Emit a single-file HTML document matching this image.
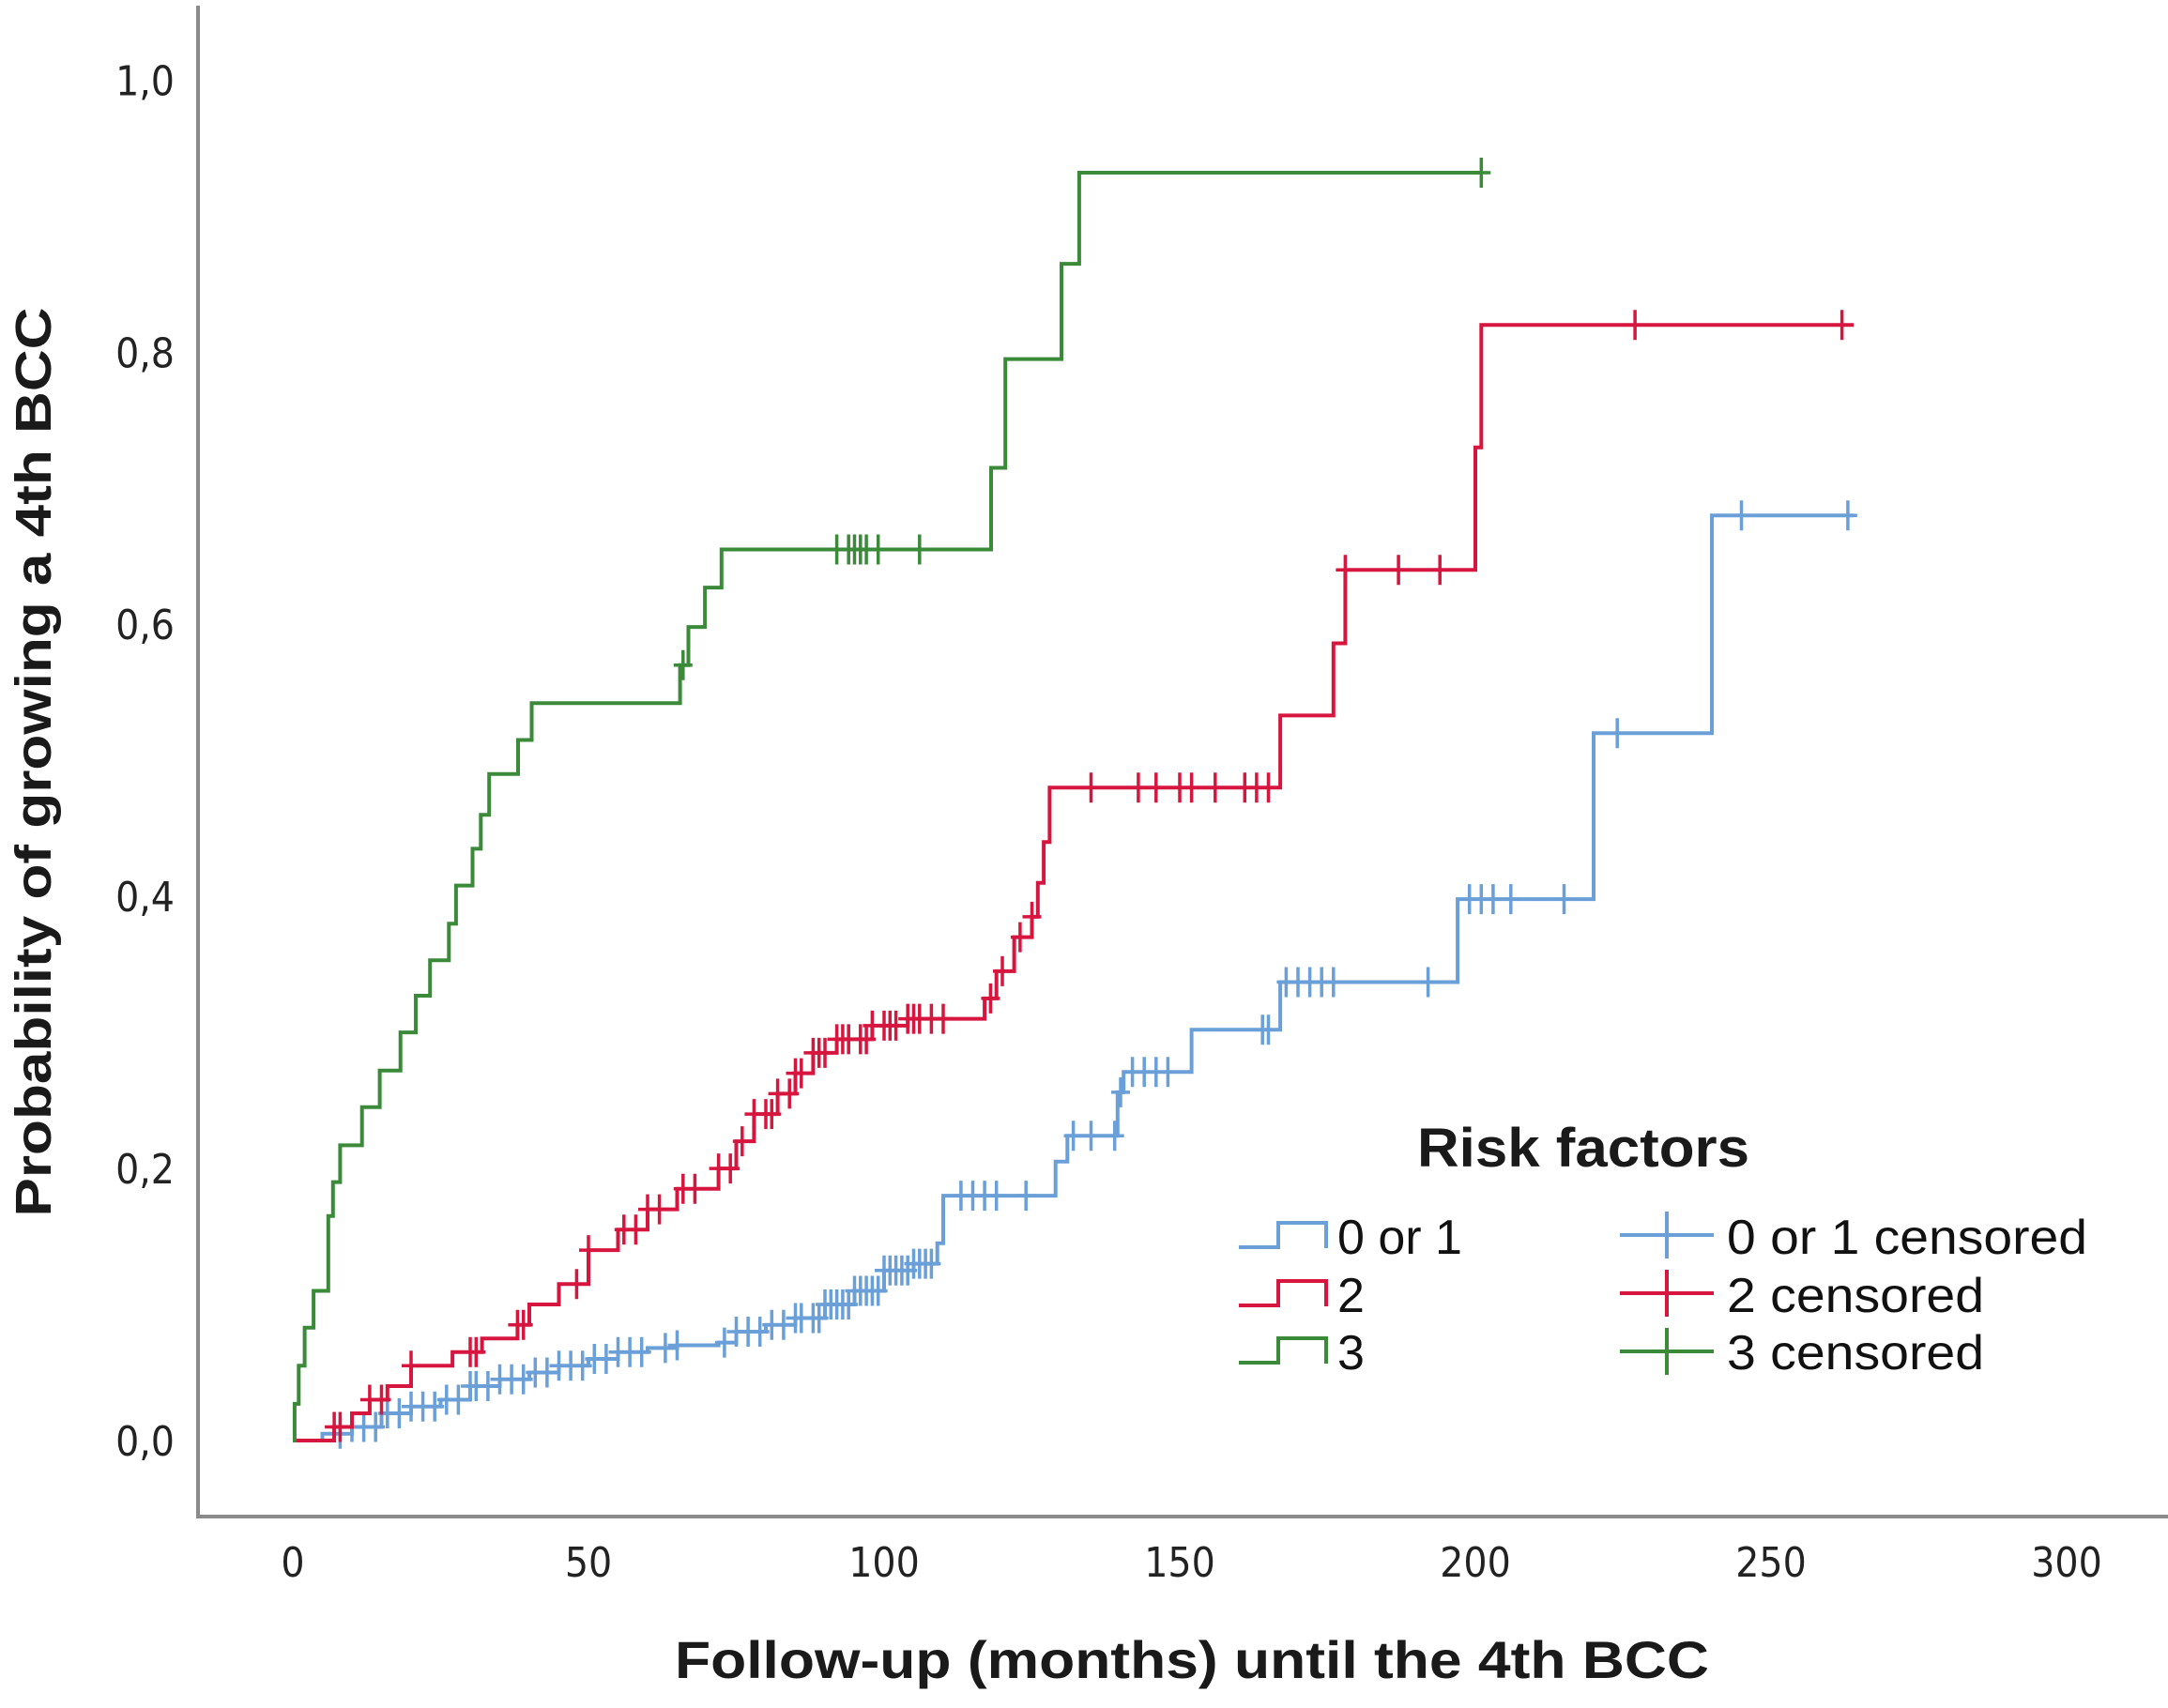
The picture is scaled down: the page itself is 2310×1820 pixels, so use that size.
<!DOCTYPE html>
<html><head><meta charset="utf-8"><style>
html,body{margin:0;padding:0;background:#fff;}
svg{display:block;}
text{font-family:"Liberation Sans","DejaVu Sans",sans-serif;}
.tick{font-family:"DejaVu Sans Condensed","DejaVu Sans",sans-serif;font-size:44px;fill:#222;}
</style></head><body>
<svg id="chart" width="2310" height="1820" viewBox="0 0 2310 1820" xmlns="http://www.w3.org/2000/svg">
<line x1="211" y1="6" x2="211" y2="1617" stroke="#8a8a8a" stroke-width="4"/>
<line x1="209" y1="1616" x2="2310" y2="1616" stroke="#8a8a8a" stroke-width="4"/>
<g id="yticks"></g>
<g id="xticks"></g>
<g id="series"></g>
<text transform="translate(54,812) rotate(-90)" text-anchor="middle" font-size="54" font-weight="bold" fill="#1a1a1a" textLength="969" lengthAdjust="spacingAndGlyphs">Probability of growing a 4th BCC</text>
<text x="1270" y="1788" text-anchor="middle" font-size="56" font-weight="bold" fill="#1a1a1a" textLength="1102" lengthAdjust="spacingAndGlyphs">Follow-up (months) until the 4th BCC</text>
<g>
<text x="1510" y="1243" font-size="58" font-weight="bold" fill="#1a1a1a" textLength="354" lengthAdjust="spacingAndGlyphs">Risk factors</text>
<g><path d="M1320,1329 H1362 V1303 H1413 V1330" fill="none" stroke="#6a9fd8" stroke-width="4"/><text x="1425" y="1336" font-size="52" fill="#111">0 or 1</text></g>
<g><path d="M1320,1391 H1362 V1365 H1413 V1392" fill="none" stroke="#d6163f" stroke-width="4"/><text x="1425" y="1398" font-size="52" fill="#111">2</text></g>
<g><path d="M1320,1452 H1362 V1426 H1413 V1453" fill="none" stroke="#3a8a3a" stroke-width="4"/><text x="1425" y="1459" font-size="52" fill="#111">3</text></g>
<g><path d="M1726,1316 H1826 M1776,1291 V1341" stroke="#6a9fd8" stroke-width="4"/><text x="1840" y="1336" font-size="52" fill="#111" textLength="384" lengthAdjust="spacingAndGlyphs">0 or 1 censored</text></g>
<g><path d="M1726,1378 H1826 M1776,1353 V1403" stroke="#d6163f" stroke-width="4"/><text x="1840" y="1398" font-size="52" fill="#111" textLength="274" lengthAdjust="spacingAndGlyphs">2 censored</text></g>
<g><path d="M1726,1440 H1826 M1776,1415 V1465" stroke="#3a8a3a" stroke-width="4"/><text x="1840" y="1459" font-size="52" fill="#111" textLength="274" lengthAdjust="spacingAndGlyphs">3 censored</text></g>
</g>
</svg>
<script>
const xTicks = [0, 50, 100, 150, 200, 250, 300];
const yTicks = [0, 0.2, 0.4, 0.6, 0.8, 1.0];
const yTickLabels = ["0,0", "0,2", "0,4", "0,6", "0,8", "1,0"];

// series 3 (green)
const g3Times = [0.3,1,2,3.5,6,6.8,8,11.7,14.7,18.2,20.8,23.2,26.4,27.6,30.4,31.8,33.2,38.1,40.4,65.5,66.9,69.7,72.5,118.1,120.5,130,133];
const g3Probs = [0.027,0.055,0.083,0.11,0.165,0.19,0.217,0.245,0.272,0.30,0.327,0.353,0.38,0.408,0.435,0.46,0.49,0.515,0.542,0.57,0.598,0.627,0.655,0.715,0.795,0.865,0.932];
const g3End = 201;
const g3Censored = [66,92,94,95,96,97,99,106,201];

// series 2 (red)
const g2Times = [7,10,13,16,20,27,32,38,40,45,50,55,60,65,72,75,78,82,85,88,92,98,104,117,119,122,125,126,127,128,167,176,178,200,201];
const g2Probs = [0.01,0.02,0.03,0.04,0.055,0.065,0.075,0.085,0.10,0.115,0.14,0.155,0.17,0.185,0.2,0.22,0.24,0.255,0.27,0.285,0.295,0.305,0.31,0.325,0.345,0.37,0.385,0.41,0.44,0.48,0.533,0.586,0.64,0.73,0.82];
const g2End = 264;
const g2Censored = [7,8,13,15,20,30,31,38,39,48,50,56,58,60,62,66,68,72,74,76,78,80,81,82,84,85,86,88,89,90,92,93,94,96,97,98,100,101,102,104,105,106,108,110,118,120,123,125,135,143,146,150,152,156,161,163,165,178,187,194,227,262];

// series 0 or 1 (blue)
const g1Times = [5,10,15,20,25,30,35,40,45,50,55,60,65,72,75,80,85,90,95,100,105,109,110,129,131,139.5,140.5,152,167,197,220,240];
const g1Probs = [0.005,0.01,0.02,0.025,0.03,0.04,0.045,0.05,0.055,0.06,0.065,0.068,0.07,0.072,0.08,0.085,0.09,0.1,0.11,0.125,0.13,0.145,0.18,0.205,0.224,0.256,0.271,0.302,0.337,0.398,0.52,0.68];
const g1End = 264;
const g1Censored = [8,10,12,14,16,18,20,22,24,26,28,30,31,33,35,37,39,41,43,45,47,49,51,53,55,57,59,63,65,73,75,77,79,81,83,85,86,88,89,90,91,92,93,94,95,96,97,98,99,100,101,102,103,104,105,106,107,108,113,115,117,119,124,132,135,139,140,142,144,146,148,164,165,168,170,172,174,176,192,199,201,203,206,215,224,245,263];

const X = m => 312 + 6.30 * m;
const Y = p => 1535 - 1449.6 * p;
const NS = "http://www.w3.org/2000/svg";

const yt = document.getElementById('yticks');
yTicks.forEach((v, i) => {
  const t = document.createElementNS(NS, 'text');
  
  
  t.setAttribute('x', 186); t.setAttribute('y', Y(v) + 16);
  t.setAttribute('text-anchor', 'end'); t.setAttribute('class', 'tick');
  t.textContent = yTickLabels[i];
  yt.appendChild(t);
});
const xt = document.getElementById('xticks');
xTicks.forEach(v => {
  const t = document.createElementNS(NS, 'text');
  
  
  t.setAttribute('x', X(v)); t.setAttribute('y', 1680);
  t.setAttribute('text-anchor', 'middle'); t.setAttribute('class', 'tick');
  t.textContent = String(v);
  xt.appendChild(t);
});

function stepProb(times, probs, m) {
  let p = 0;
  for (let i = 0; i < times.length; i++) { if (times[i] <= m) p = probs[i]; }
  return p;
}
const sg = document.getElementById('series');
function drawSeries(times, probs, end, cens, color, name) {
  let d = 'M' + X(0) + ',' + Y(0);
  times.forEach((t, i) => {
    d += ' H' + X(t).toFixed(1) + ' V' + Y(probs[i]).toFixed(1);
  });
  d += ' H' + X(end).toFixed(1);
  const path = document.createElementNS(NS, 'path');
  
  
  path.setAttribute('d', d);
  path.setAttribute('fill', 'none'); path.setAttribute('stroke', color);
  path.setAttribute('stroke-width', '4');
  sg.appendChild(path);
  cens.forEach(c => {
    const y = Y(stepProb(times, probs, c));
    const l = document.createElementNS(NS, 'path');
    
    
    l.setAttribute('d', 'M' + X(c).toFixed(1) + ',' + (y - 16).toFixed(1) + ' V' + (y + 16).toFixed(1) + ' M' + (X(c) - 10).toFixed(1) + ',' + y.toFixed(1) + ' H' + (X(c) + 10).toFixed(1));
    l.setAttribute('stroke', color); l.setAttribute('stroke-width', '3.5');
    sg.appendChild(l);
  });
}
drawSeries(g1Times, g1Probs, g1End, g1Censored, '#6a9fd8', 'risk-0or1');
drawSeries(g2Times, g2Probs, g2End, g2Censored, '#d6163f', 'risk-2');
drawSeries(g3Times, g3Probs, g3End, g3Censored, '#3a8a3a', 'risk-3');
</script>
</body></html>
